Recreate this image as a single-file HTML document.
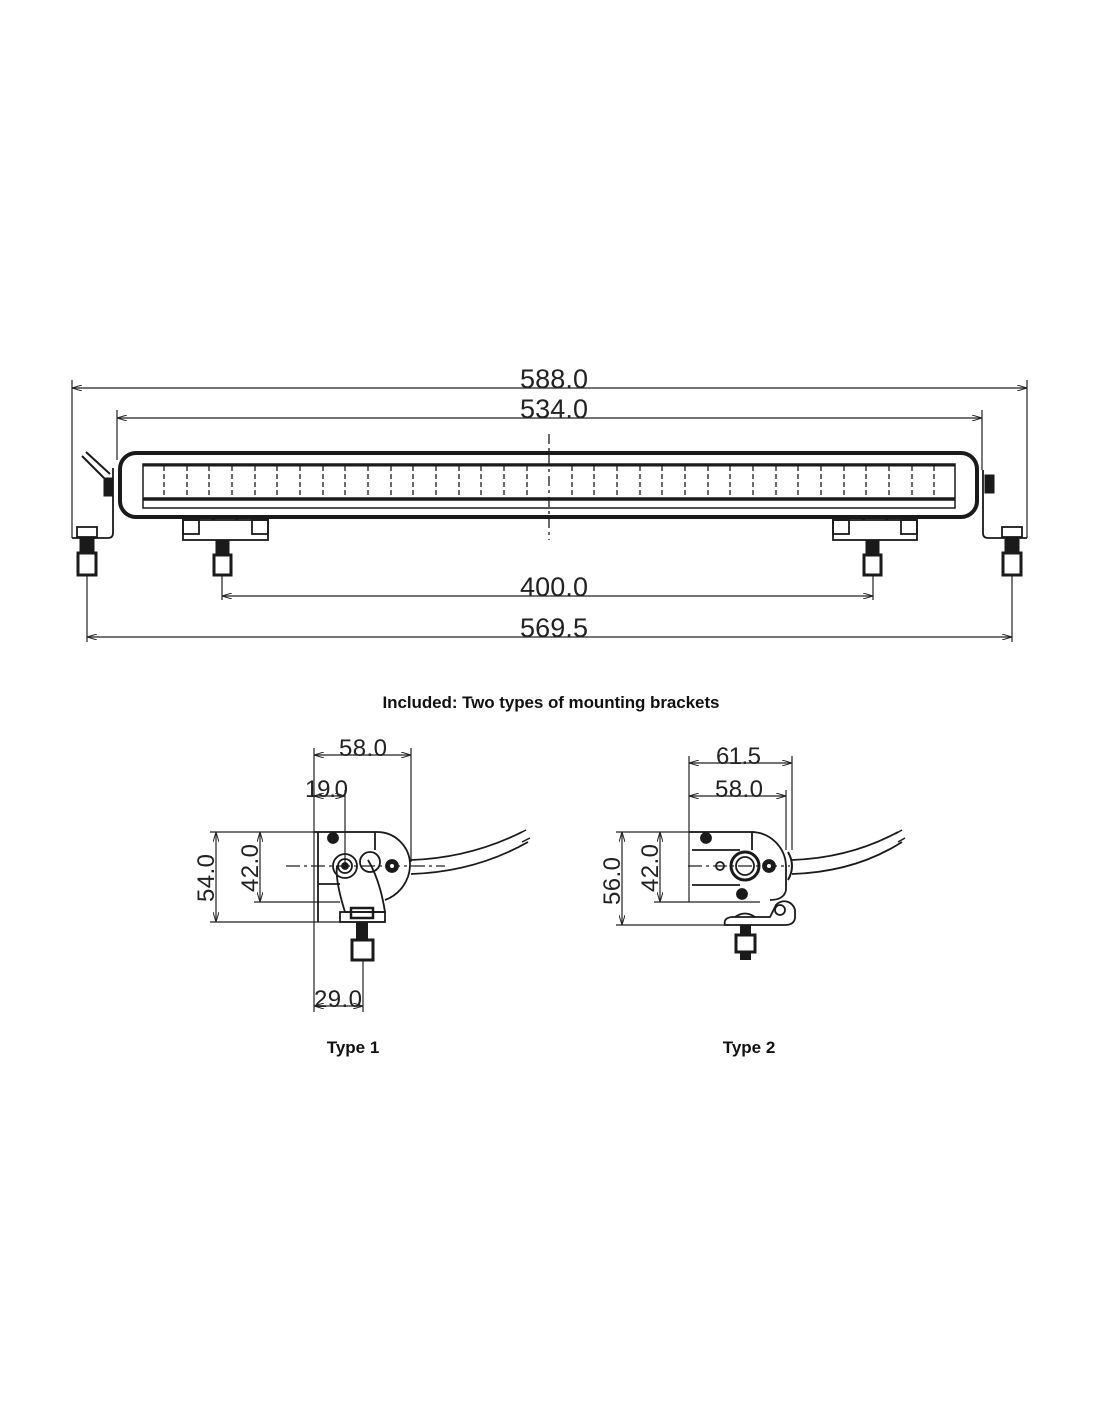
<!DOCTYPE html>
<html><head><meta charset="utf-8"><style>
html,body{margin:0;padding:0;background:#fff;}
svg{display:block;}
.d{font-family:"Liberation Sans",sans-serif;font-weight:normal;fill:#222;}
.b{font-family:"Liberation Sans",sans-serif;font-weight:bold;fill:#111;}
</style></head><body>
<svg width="1100" height="1422" viewBox="0 0 1100 1422" xmlns="http://www.w3.org/2000/svg">
<defs>
<marker id="a" viewBox="0 0 10 6" refX="10" refY="3" markerWidth="10" markerHeight="6" orient="auto-start-reverse" markerUnits="userSpaceOnUse"><path d="M0,0 L10,3 L0,6" fill="none" stroke="#222" stroke-width="1"/></marker>
</defs>
<g stroke="#222" stroke-width="1.2" fill="none">
<!-- top dimension lines -->
<line x1="72" y1="388" x2="1027" y2="388" marker-start="url(#a)" marker-end="url(#a)"/>
<line x1="72" y1="380" x2="72" y2="538"/>
<line x1="1027" y1="380" x2="1027" y2="538"/>
<line x1="117" y1="418" x2="982" y2="418" marker-start="url(#a)" marker-end="url(#a)"/>
<line x1="117" y1="410" x2="117" y2="460"/>
<line x1="982" y1="410" x2="982" y2="470"/>
<line x1="222" y1="596" x2="873" y2="596" marker-start="url(#a)" marker-end="url(#a)"/>
<line x1="222" y1="570" x2="222" y2="600"/>
<line x1="873" y1="570" x2="873" y2="600"/>
<line x1="87" y1="637" x2="1012" y2="637" marker-start="url(#a)" marker-end="url(#a)"/>
<line x1="87" y1="575" x2="87" y2="642"/>
<line x1="1012" y1="575" x2="1012" y2="642"/>
</g>
<text class="d" x="520" y="388" font-size="27" textLength="68">588.0</text>
<text class="d" x="520" y="418" font-size="27" textLength="68">534.0</text>
<text class="d" x="520" y="596" font-size="27" textLength="68">400.0</text>
<text class="d" x="520" y="637" font-size="27" textLength="68">569.5</text>
<!-- bar -->
<g stroke="#1a1a1a" fill="none">
<rect x="120" y="453" width="857" height="64" rx="16" stroke-width="4"/>
<rect x="143" y="464" width="812" height="44" stroke-width="1.5"/>
<line x1="143" y1="465" x2="955" y2="465" stroke-width="3"/>
<line x1="143" y1="499" x2="955" y2="499" stroke-width="3.5"/>
<line x1="549" y1="434" x2="549" y2="540" stroke-width="1.3" stroke-dasharray="10,4,3,4"/>
<g stroke-width="1.3" stroke-dasharray="5,3">
<line x1="164" y1="466" x2="164" y2="498"/><line x1="187" y1="466" x2="187" y2="498"/><line x1="209" y1="466" x2="209" y2="498"/><line x1="232" y1="466" x2="232" y2="498"/><line x1="255" y1="466" x2="255" y2="498"/><line x1="277" y1="466" x2="277" y2="498"/><line x1="300" y1="466" x2="300" y2="498"/><line x1="323" y1="466" x2="323" y2="498"/><line x1="345" y1="466" x2="345" y2="498"/><line x1="368" y1="466" x2="368" y2="498"/><line x1="391" y1="466" x2="391" y2="498"/><line x1="413" y1="466" x2="413" y2="498"/><line x1="436" y1="466" x2="436" y2="498"/><line x1="459" y1="466" x2="459" y2="498"/><line x1="481" y1="466" x2="481" y2="498"/><line x1="504" y1="466" x2="504" y2="498"/><line x1="527" y1="466" x2="527" y2="498"/>
<line x1="572" y1="466" x2="572" y2="498"/><line x1="594" y1="466" x2="594" y2="498"/><line x1="617" y1="466" x2="617" y2="498"/><line x1="640" y1="466" x2="640" y2="498"/><line x1="662" y1="466" x2="662" y2="498"/><line x1="685" y1="466" x2="685" y2="498"/><line x1="708" y1="466" x2="708" y2="498"/><line x1="730" y1="466" x2="730" y2="498"/><line x1="753" y1="466" x2="753" y2="498"/><line x1="776" y1="466" x2="776" y2="498"/><line x1="798" y1="466" x2="798" y2="498"/><line x1="821" y1="466" x2="821" y2="498"/><line x1="844" y1="466" x2="844" y2="498"/><line x1="866" y1="466" x2="866" y2="498"/><line x1="889" y1="466" x2="889" y2="498"/><line x1="912" y1="466" x2="912" y2="498"/><line x1="934" y1="466" x2="934" y2="498"/>
</g>
<!-- feet -->
<g stroke-width="1.8">
<rect x="183" y="520" width="85" height="20"/><rect x="183" y="520" width="16" height="14"/><rect x="252" y="520" width="16" height="14"/>
<path d="M212,520 Q225,512 238,520"/>
<rect x="833" y="520" width="84" height="20"/><rect x="833" y="520" width="16" height="14"/><rect x="901" y="520" width="16" height="14"/>
<path d="M862,520 Q875,512 888,520"/>
<!-- side brackets -->
<path d="M113,468 L113,533 Q113,538 108,538 L72,538"/>
<rect x="77" y="527" width="20" height="10"/>
<path d="M983,470 L983,533 Q983,538 988,538 L1027,538"/>
<rect x="1002" y="527" width="20" height="10"/>
</g>
<!-- bolts -->
<g fill="#1a1a1a" stroke="#1a1a1a" stroke-width="1">
<rect x="216" y="541" width="13" height="14"/><rect x="214" y="555" width="17" height="20" fill="#fff" stroke-width="3"/>
<rect x="866" y="541" width="13" height="14"/><rect x="864" y="555" width="17" height="20" fill="#fff" stroke-width="3"/>
<rect x="80" y="538" width="14" height="15"/><rect x="78" y="553" width="18" height="22" fill="#fff" stroke-width="3"/>
<rect x="1005" y="538" width="14" height="15"/><rect x="1003" y="553" width="18" height="22" fill="#fff" stroke-width="3"/>
<rect x="104" y="478" width="9" height="18"/>
<rect x="985" y="475" width="9" height="18"/>
</g>
<path d="M82,456 L104,478 M86,452 L110,474" stroke-width="2"/>
</g>
<text class="b" x="551" y="708" font-size="17" text-anchor="middle" textLength="337">Included: Two types of mounting brackets</text>
<!-- Type 1 -->
<g stroke="#222" stroke-width="1.2" fill="none">
<line x1="314" y1="755" x2="411" y2="755" marker-start="url(#a)" marker-end="url(#a)"/>
<line x1="314" y1="748" x2="314" y2="1012"/>
<line x1="411" y1="748" x2="411" y2="862"/>
<line x1="314" y1="796" x2="345" y2="796" marker-start="url(#a)" marker-end="url(#a)"/>
<line x1="345" y1="790" x2="345" y2="866"/>
<line x1="216" y1="832" x2="216" y2="922" marker-start="url(#a)" marker-end="url(#a)"/>
<line x1="210" y1="832" x2="378" y2="832"/>
<line x1="210" y1="922" x2="385" y2="922"/>
<line x1="260" y1="832" x2="260" y2="902" marker-start="url(#a)" marker-end="url(#a)"/>
<line x1="254" y1="902" x2="340" y2="902"/>
<line x1="314" y1="1006" x2="363" y2="1006" marker-start="url(#a)" marker-end="url(#a)"/>
<line x1="363" y1="960" x2="363" y2="1012"/>
<line x1="286" y1="866" x2="445" y2="866" stroke-dasharray="14,4,3,4"/>
</g>
<g stroke="#1a1a1a" stroke-width="1.8" fill="none">
<path d="M314,832 L378,832 A33,33 0 0 1 410,866 A38,38 0 0 1 385,900"/>
<line x1="318" y1="832" x2="318" y2="922"/>
<line x1="375" y1="832" x2="375" y2="850"/>
<line x1="318" y1="884" x2="340" y2="884"/>
<path d="M337,866 Q335,880 345,912 L385,912 Q380,880 368,860"/>
<rect x="340" y="912" width="45" height="10"/>
<rect x="351" y="908" width="22" height="10" stroke-width="2.5"/>
<circle cx="345" cy="866" r="12"/><circle cx="345" cy="866" r="7"/><circle cx="345" cy="866" r="3" fill="#1a1a1a"/>
<circle cx="370" cy="862" r="10"/>
<circle cx="392" cy="866" r="6" fill="#1a1a1a"/><circle cx="392" cy="866" r="2" fill="#fff" stroke="none"/>
<circle cx="333" cy="838" r="5" fill="#1a1a1a"/>
<path d="M411,860 Q470,858 522,832 M411,874 Q475,872 528,842"/>
<path d="M518,834 L526,830 M522,842 L530,838" stroke-width="1.5"/>
</g>
<g fill="#1a1a1a"><rect x="356" y="922" width="12" height="18"/><rect x="352" y="940" width="21" height="20" fill="#fff" stroke="#1a1a1a" stroke-width="3"/></g>
<text class="d" x="339" y="756" font-size="24" textLength="48">58.0</text>
<text class="d" x="305" y="797" font-size="24" textLength="43">19.0</text>
<text class="d" x="314" y="1007" font-size="24" textLength="48">29.0</text>
<text class="d" transform="translate(214,902) rotate(-90)" font-size="24" textLength="48">54.0</text>
<text class="d" transform="translate(258,892) rotate(-90)" font-size="24" textLength="48">42.0</text>
<text class="b" x="353" y="1053" font-size="17" text-anchor="middle">Type 1</text>
<!-- Type 2 -->
<g stroke="#222" stroke-width="1.2" fill="none">
<line x1="689" y1="763" x2="792" y2="763" marker-start="url(#a)" marker-end="url(#a)"/>
<line x1="689" y1="756" x2="689" y2="902"/>
<line x1="792" y1="756" x2="792" y2="850"/>
<line x1="689" y1="796" x2="786" y2="796" marker-start="url(#a)" marker-end="url(#a)"/>
<line x1="786" y1="790" x2="786" y2="850"/>
<line x1="622" y1="832" x2="622" y2="925" marker-start="url(#a)" marker-end="url(#a)"/>
<line x1="616" y1="832" x2="755" y2="832"/>
<line x1="616" y1="925" x2="730" y2="925"/>
<line x1="660" y1="832" x2="660" y2="902" marker-start="url(#a)" marker-end="url(#a)"/>
<line x1="654" y1="902" x2="760" y2="902"/>
<line x1="688" y1="866" x2="790" y2="866" stroke-dasharray="14,4,3,4"/>
</g>
<g stroke="#1a1a1a" stroke-width="1.8" fill="none">
<path d="M689,832 L752,832 A35,35 0 0 1 786,866 L786,890 Q784,900 770,900"/>
<line x1="752" y1="832" x2="752" y2="850"/>
<line x1="692" y1="850" x2="740" y2="850"/><line x1="692" y1="885" x2="740" y2="885"/>
<circle cx="745" cy="866" r="14" stroke-width="3"/><circle cx="745" cy="866" r="9"/>
<circle cx="720" cy="866" r="4"/>
<circle cx="769" cy="866" r="6" fill="#1a1a1a"/><circle cx="769" cy="866" r="2" fill="#fff" stroke="none"/>
<circle cx="706" cy="838" r="5" fill="#1a1a1a"/><circle cx="742" cy="894" r="5" fill="#1a1a1a"/>
<path d="M788,852 Q796,866 788,880" stroke-width="2"/>
<path d="M725,925 Q723,918 732,917 L770,917 L776,905 A11,11 0 0 1 795,910 L795,918 Q794,925 785,925 Z"/>
<circle cx="780" cy="910" r="5"/>
<path d="M735,917 Q745,910 755,917"/>
<path d="M792,860 Q850,858 898,832 M792,874 Q855,872 902,842"/>
<path d="M895,834 L902,830 M898,842 L905,838" stroke-width="1.5"/>
</g>
<g fill="#1a1a1a"><rect x="740" y="925" width="11" height="35"/><rect x="736" y="935" width="19" height="17" fill="#fff" stroke="#1a1a1a" stroke-width="3"/></g>
<text class="d" x="716" y="764" font-size="24" textLength="45">61.5</text>
<text class="d" x="715" y="797" font-size="24" textLength="48">58.0</text>
<text class="d" transform="translate(620,905) rotate(-90)" font-size="24" textLength="48">56.0</text>
<text class="d" transform="translate(658,892) rotate(-90)" font-size="24" textLength="48">42.0</text>
<text class="b" x="749" y="1053" font-size="17" text-anchor="middle">Type 2</text>
</svg>
</body></html>
